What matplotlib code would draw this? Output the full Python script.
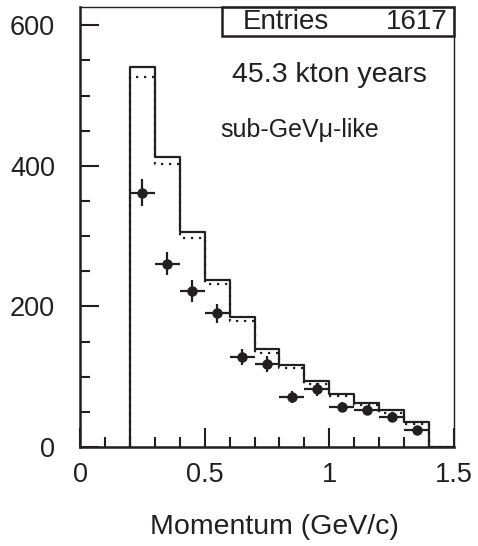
import numpy as np
import matplotlib
matplotlib.use("Agg")
import matplotlib.pyplot as plt
from matplotlib.patches import Rectangle
from matplotlib.ticker import MultipleLocator

plt.rcParams['font.family'] = ['Liberation Sans', 'DejaVu Sans']

# ---- data ----
bin_edges = [0.2, 0.3, 0.4, 0.5, 0.6, 0.7, 0.8, 0.9, 1.0, 1.1, 1.2, 1.3, 1.4]
mc_solid = [540, 413, 306, 237, 185, 139, 117, 94, 75, 63, 53, 35]
mc_dotted = [526, 402, 298, 232, 179, 134, 112, 90, 73, 60, 48, 33]
data_x = [0.25, 0.35, 0.45, 0.55, 0.65, 0.75, 0.85, 0.95, 1.05, 1.15, 1.25, 1.35]
data_y = [362, 261, 222, 190, 128, 118, 71, 82, 57, 52, 43, 24]
data_yerr = [19, 16, 15, 14, 11, 11, 8.5, 9, 7.5, 7, 6.5, 5]
data_xerr = [0.05] * 12
x_ticks = [0, 0.5, 1, 1.5]
x_tick_labels = ['0', '0.5', '1', '1.5']
y_ticks = [0, 200, 400, 600]
y_tick_labels = ['0', '200', '400', '600']
entries_label = 'Entries'
entries_value = '1617'
exposure_text = '45.3 kton years'
sample_text = 'sub-GeVμ-like'
xlabel = 'Momentum (GeV/c)'

INK = '#231f20'
W, H = 478, 546
fig = plt.figure(figsize=(W / 100, H / 100), dpi=100)
ax = fig.add_axes([80 / W, 1 - 447 / H, (454 - 80) / W, (447 - 7) / H])

# histograms
edges = np.array(bin_edges)
solid = np.array(mc_solid)
dotted = np.array(mc_dotted)
xs = np.concatenate([[edges[0]], edges, [1.5]])
ys_s = np.concatenate([[0], solid, [0], [0]])
ax.step(xs, ys_s, where='post', color=INK, lw=1.6, zorder=3)
ys_d = np.concatenate([[0], dotted, [0], [0]])
ax.step(xs, ys_d, where='post', color=INK, lw=1.6, ls=(0, (1, 2.6)), zorder=2)

# data points
ax.errorbar(data_x, data_y, xerr=data_xerr, yerr=data_yerr, fmt='o', color=INK,
            ms=6.5, elinewidth=1.6, capsize=0, zorder=4)

ax.set_xlim(0, 1.5)
ax.set_ylim(0, 626)
ax.set_xticks(x_ticks)
ax.set_xticklabels(x_tick_labels)
ax.set_yticks(y_ticks)
ax.set_yticklabels(y_tick_labels)
ax.xaxis.set_minor_locator(MultipleLocator(0.1))
ax.yaxis.set_minor_locator(MultipleLocator(50))
ax.tick_params(which='both', direction='in', colors=INK, labelsize=19.5, width=1.5,
               top=False, right=False)
ax.tick_params(which='major', length=14)
ax.tick_params(which='minor', length=7)
ax.tick_params(axis='x', pad=11)
ax.tick_params(axis='y', pad=18)

for s in ['left', 'bottom']:
    ax.spines[s].set_linewidth(1.8)
    ax.spines[s].set_color(INK)
for s in ['top', 'right']:
    ax.spines[s].set_linewidth(1.0)
    ax.spines[s].set_color(INK)

# stats box
def px2ax(x, y):
    return ((x - 80) / (454 - 80), (447 - y) / (447 - 7))

bx0, by0 = px2ax(222, 36)
bx1, by1 = px2ax(454, 7)
ax.add_patch(Rectangle((bx0, by0), bx1 - bx0, by1 - by0, transform=ax.transAxes,
                       fill=False, lw=1.8, edgecolor=INK, zorder=5, clip_on=False))
tx, ty = px2ax(243, 22)
ax.text(tx, ty, entries_label, transform=ax.transAxes, ha='left', va='center',
        fontsize=20, color=INK)
tx, ty = px2ax(448, 22)
ax.text(tx, ty, entries_value, transform=ax.transAxes, ha='right', va='center',
        fontsize=20, color=INK)
tx, ty = px2ax(232, 75)
ax.text(tx, ty, exposure_text, transform=ax.transAxes, ha='left', va='center',
        fontsize=20.5, color=INK)
tx, ty = px2ax(220, 130)
ax.text(tx, ty, sample_text, transform=ax.transAxes, ha='left', va='center',
        fontsize=18, color=INK)

fig.text(274 / W, 1 - 527 / H, xlabel, ha='center', va='center', fontsize=20.5, color=INK)

fig.savefig('out.png', dpi=100)
